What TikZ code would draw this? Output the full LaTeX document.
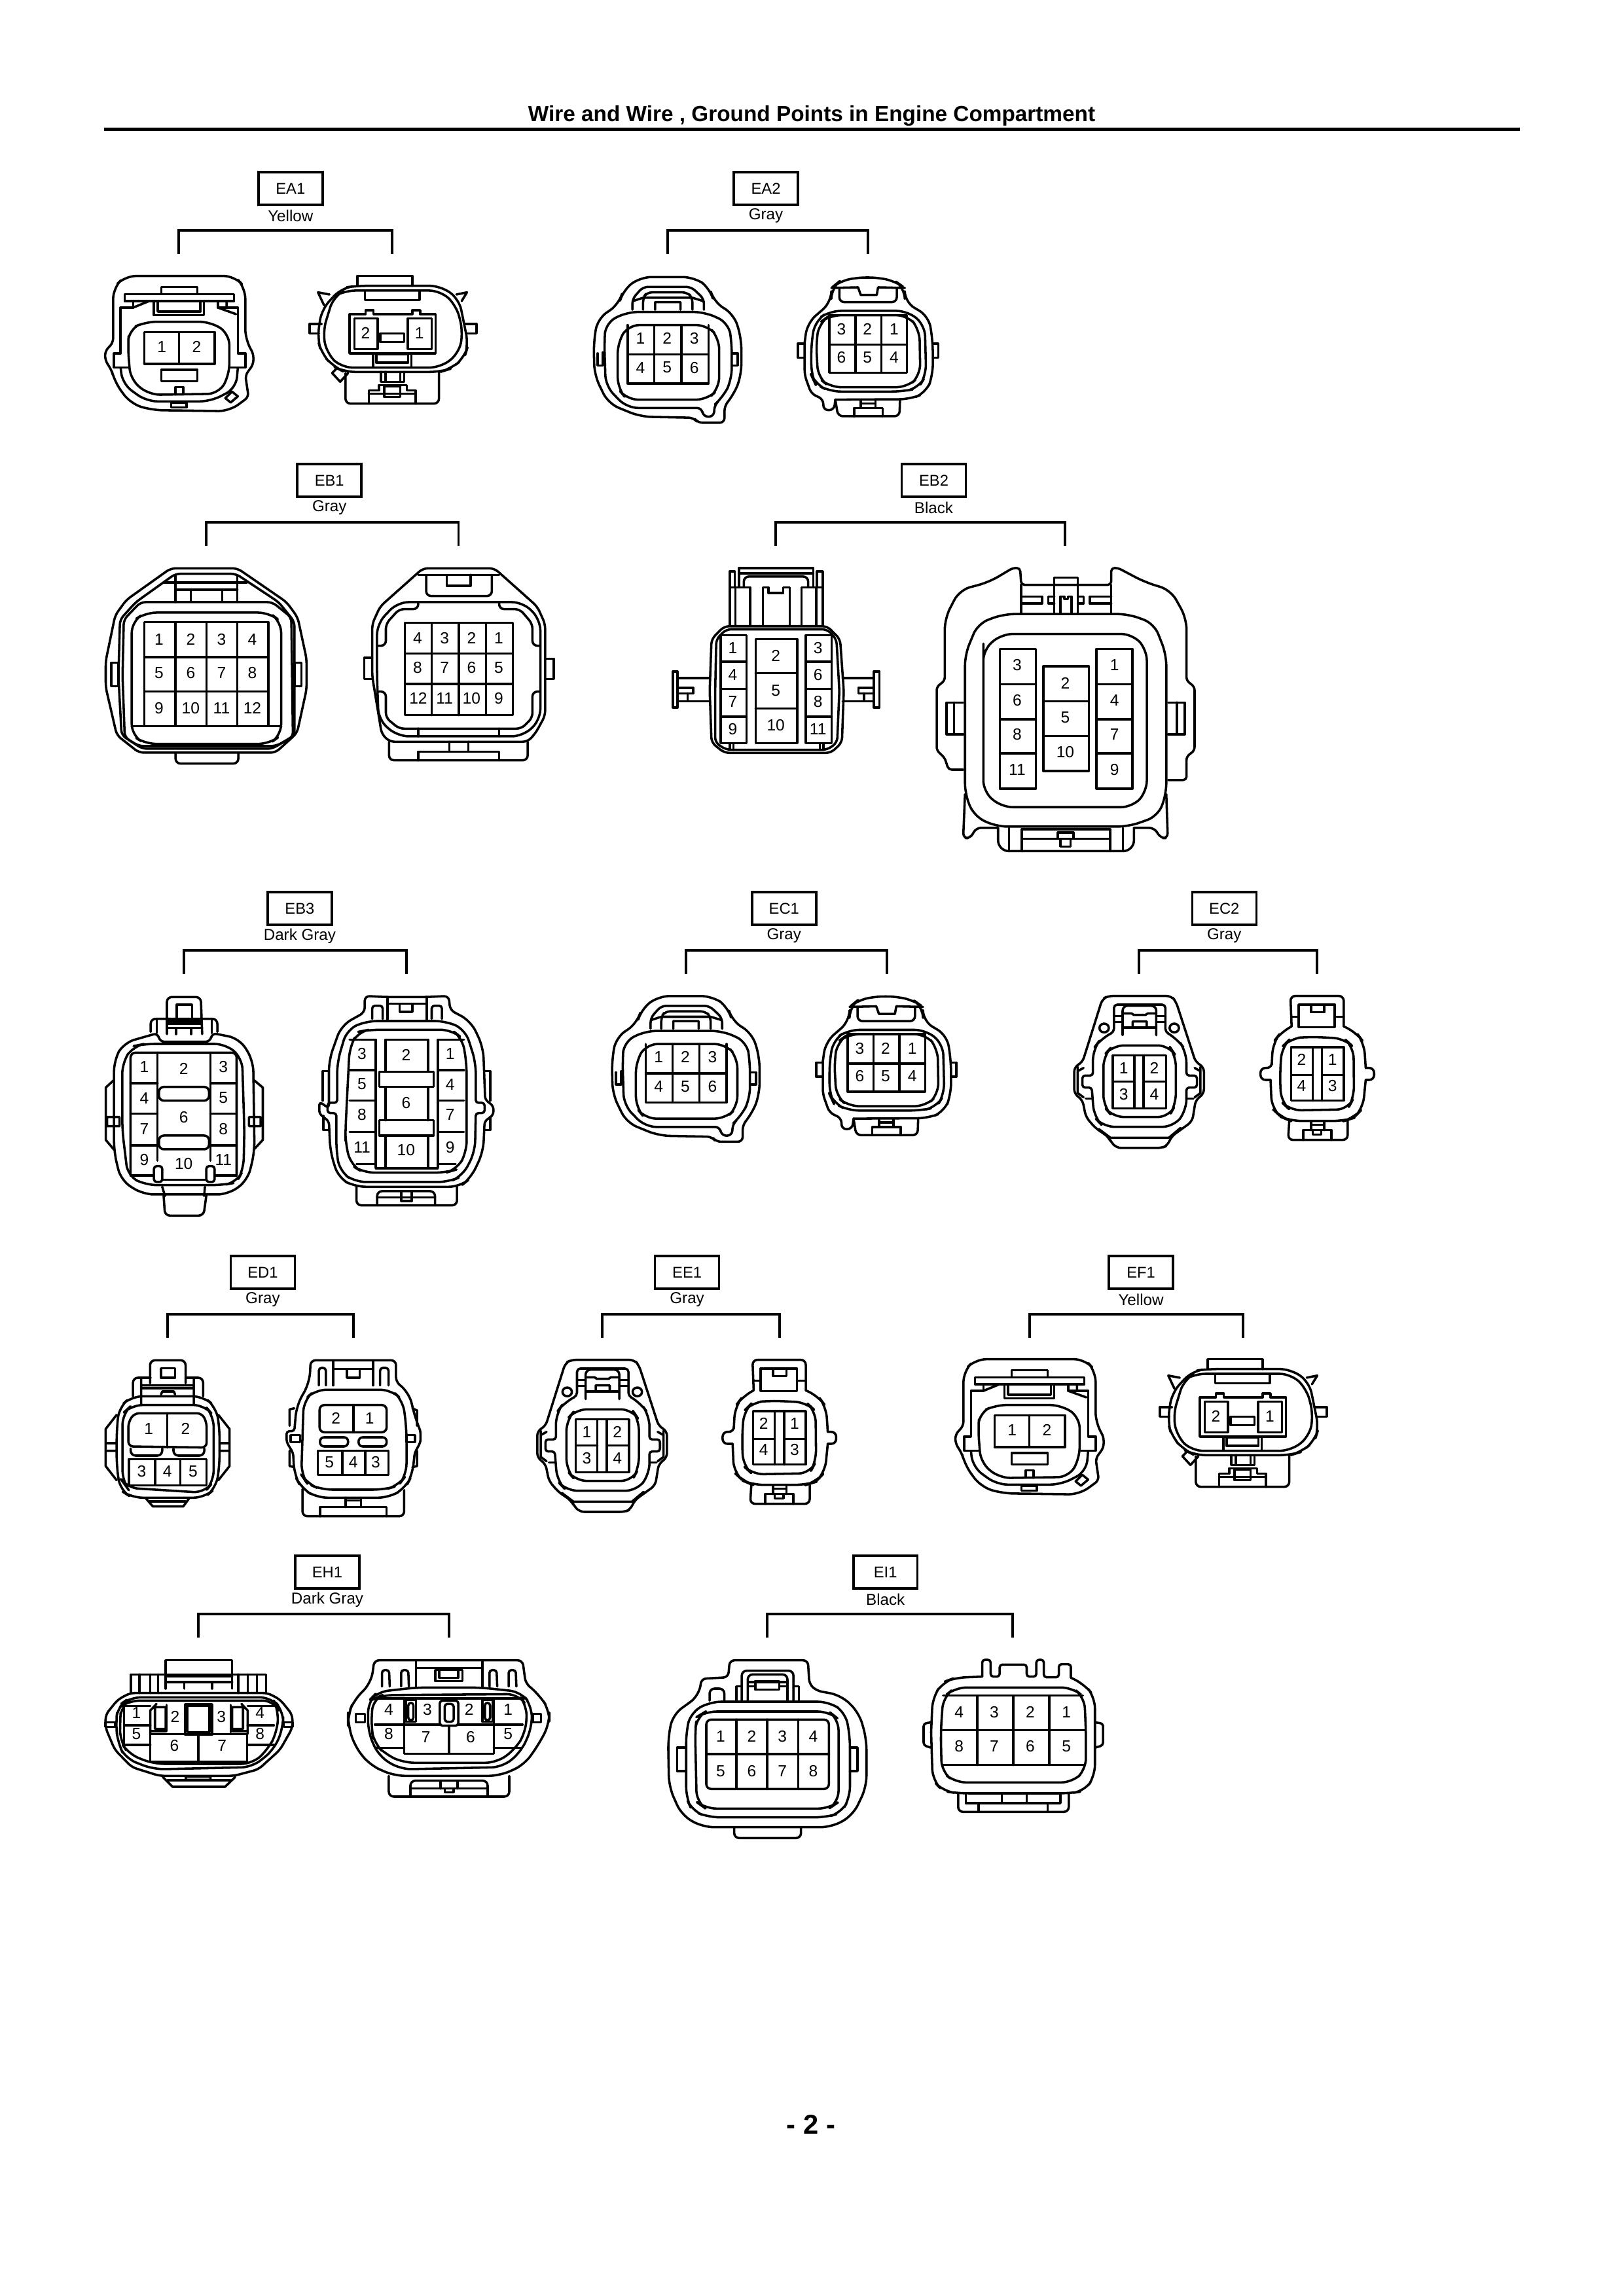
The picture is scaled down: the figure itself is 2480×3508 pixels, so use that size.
\documentclass[tikz,border=0pt]{standalone}
\usepackage{fontspec}
\setmainfont{Liberation Sans}
\usepackage{tikz}

\tikzset{
  con/.style={line width=0.85pt,line join=round,line cap=round},
  outl/.style={con,rounded corners=4pt},
  outs/.style={con,rounded corners=1.8pt},
  bracket/.style={line width=0.95pt,line join=miter},
  tagbox/.style={draw,line width=0.85pt,minimum width=23.5pt,minimum height=12pt,inner sep=0pt,font=\fontsize{5.7}{6}\selectfont},
  colourtxt/.style={inner sep=0pt,font=\fontsize{5.8}{6}\selectfont},
  pinno/.style={inner sep=0pt,font=\fontsize{5.9}{6}\selectfont},
}

% Numeros de pin: lado / lista n/x/y
\newcommand{\pins}[2]{\foreach \n/\x/\y in {#2} \node[pinno] (#1\n) at (\x,\y) {\n};}

% Etiqueta, color y corchete de cada grupo
\newcommand{\conngroup}[6]{
  \node[tagbox] (#1) at (#3,#4) {#1};
  \node[colourtxt] (#1c) at (#3,#4+42) {#2};
  \coordinate (#1t) at (#3,#4+64);
  \coordinate (#1l) at (#5,#4+100);
  \coordinate (#1r) at (#6,#4+100);
  \draw[bracket] (#1l) |- (#1t) -| (#1r);
}

% EA1 / EF1
\newcommand{\eaoneL}{
  \draw[outl] (105,850) -- (105,600) -- (150,545) -- (560,545) -- (600,600) -- (600,840) [rounded corners=1.5pt] -- (630,900) -- (630,950) -- (600,1000) -- (612,1100) [rounded corners=4pt] -- (540,1165) -- (250,1160) -- (170,1130) -- (110,1030) [rounded corners=1.5pt] -- (100,980) -- (75,930) -- (75,890) -- cycle;
  \draw[con] (148,628) rectangle (558,660) (285,628) -- (285,595) -- (420,595) -- (420,628);
  \draw[con] (258,660) -- (258,725) -- (445,725) -- (445,660) (272,665) -- (272,708) -- (432,708) -- (432,665);
  \draw[con] (180,665) -- (180,690) -- (133,690) -- (133,900) -- (108,900) -- (108,965) -- (160,965);
  \draw[con] (497,665) -- (497,690) -- (572,690) -- (572,900) -- (600,900) -- (600,965) -- (545,965);
  \draw[con] (180,690) -- (240,660) (497,690) -- (565,720) (530,665) -- (530,690);
  \draw[outl] (160,870) -- (165,790) -- (225,755) -- (470,755) -- (540,810) -- (540,1000) -- (500,1085) -- (240,1090) -- (170,1020) -- cycle;
  \draw[outl] (133,965) -- (140,1040) -- (230,1120) -- (470,1120) -- (565,1060) -- (572,965);
  \draw[con] (222,802) rectangle (485,948) (352,802) -- (352,948);
  \pins{a}{1/287/870,2/418/870}
  \draw[con] (285,975) rectangle (420,1028);
  \draw[con] (338,1088) -- (338,1055) -- (368,1055) -- (368,1088) (322,1125) rectangle (380,1148);
  \draw[con] (525,1105) -- (550,1075) -- (572,1097) -- (545,1125) -- cycle;
}
\newcommand{\eaoneR}{
  \draw[con] (1020,590) -- (1020,545) -- (1225,545) -- (1225,590);
  \draw[outl] (870,830) -- (885,700) -- (960,600) -- (1020,590) -- (1330,590) -- (1400,650) -- (1435,860) -- (1420,920) -- (1370,970) -- (1330,985) -- (970,985) -- (930,960) -- (885,900) -- cycle;
  \draw[outl] (890,800) -- (930,640) -- (970,612) -- (1330,612) -- (1390,680) -- (1415,800) -- (1400,900) -- (1330,965) -- (960,965) -- (905,900) -- cycle;
  \draw[con] (895,680) -- (872,620) -- (915,630) (1410,660) -- (1430,620) -- (1390,630);
  \draw[con] (885,765) -- (840,765) -- (840,808) -- (875,808) (1420,765) -- (1465,765) -- (1465,808) -- (1428,808);
  \draw[con] (1048,615) -- (1048,655) -- (1252,655) -- (1252,615);
  \draw[con] (990,720) -- (1050,720) -- (1050,702) -- (1080,702) -- (1080,720) -- (1225,720) -- (1225,702) -- (1255,702) -- (1255,720) -- (1312,720) -- (1312,900) -- (990,900) -- cycle;
  \draw[con] (1008,740) rectangle (1095,880) (1208,740) rectangle (1298,880);
  \pins{b}{2/1050/808,1/1252/808}
  \draw[con] (1105,808) rectangle (1195,848) (1090,905) rectangle (1210,942);
  \draw[con] (1078,900) -- (1078,962) (1222,900) -- (1222,962);
  \draw[outs] (975,990) -- (975,1130) -- (1325,1130) -- (1325,985);
  \draw[con] (925,990) -- (955,1030) -- (985,990) (925,990) -- (945,965);
  \draw[con] (1108,985) -- (1108,1030) -- (1195,1030) -- (1195,985) (1125,985) -- (1125,1030) (1180,985) -- (1180,1030);
  \draw[con] (1062,1130) -- (1062,1070) -- (1100,1070) -- (1100,1045) -- (1205,1045) -- (1205,1070) -- (1238,1070) -- (1238,1130) (1062,1085) -- (1238,1085);
  \draw[con] (1120,1050) rectangle (1180,1100);
}

% EA2 / EC1
\newcommand{\eatwoL}{
  \draw[outl] (115,850) -- (130,740) -- (210,675) -- (225,610) -- (290,550) -- (490,550) -- (550,600) -- (565,665) -- (640,720) -- (668,830) -- (668,1000) -- (640,1090) [rounded corners=1.8pt] -- (605,1140) -- (605,1218) -- (505,1218) -- (490,1195) [rounded corners=4pt] -- (290,1190) -- (170,1130) -- (118,1000) -- cycle;
  \draw[outl] (155,850) -- (160,760) -- (240,710) -- (530,710) -- (620,760) -- (632,850) -- (632,1020) -- (600,1100) [rounded corners=1.8pt] -- (568,1135) -- (565,1190) -- (525,1190) -- (520,1150) [rounded corners=4pt] -- (240,1150) -- (160,1050) -- cycle;
  \draw[outl] (205,850) -- (245,770) -- (540,770) -- (585,830) -- (585,1060) -- (540,1112) -- (240,1112) -- (205,1060) -- cycle;
  \draw[con] (242,770) -- (242,1038) -- (545,1038) -- (545,770) (242,905) -- (545,905);
  \foreach \x in {342,443} \draw[con] (\x,770) -- (\x,1038);
  \pins{a}{1/290/830,2/390/830,3/492/830,4/290/965,5/390/965,6/492/965}
  \draw[outs] (260,700) -- (260,650) -- (300,595) -- (480,595) -- (528,650) -- (528,700);
  \draw[outs] (300,700) -- (300,645) -- (315,620) -- (465,620) -- (485,645) -- (485,700);
  \draw[con] (262,660) -- (300,645) -- (485,645) -- (525,660) (345,700) -- (345,665) -- (440,665) -- (440,700);
  \draw[con] (130,900) -- (130,955) -- (150,955) -- (150,895) (635,900) -- (655,900) -- (655,955) -- (635,955);
}
\newcommand{\eatwoR}{
  \draw[outl] (905,850) -- (915,760) -- (1005,665) -- (1005,600) -- (1040,565) -- (1140,548) -- (1240,565) -- (1280,600) -- (1280,665) -- (1370,730) -- (1385,850) -- (1385,1000) -- (1360,1080) -- (1300,1110) -- (1020,1112);
  \draw[outs] (905,850) -- (905,1000) -- (930,1085) -- (975,1110) -- (975,1160) -- (1015,1160) -- (1020,1112);
  \draw[outl] (930,850) -- (945,750) -- (1000,705) -- (1290,705) -- (1355,770) -- (1360,1000) -- (1330,1060) -- (1270,1075) -- (1000,1075) -- (945,1040) -- (930,1000) -- cycle;
  \draw[outl] (948,850) -- (960,760) -- (1000,725) -- (1290,725) -- (1335,790) -- (1338,1000) -- (1290,1055) -- (1000,1055) -- (955,1010) -- cycle;
  \draw[con] (998,725) rectangle (1288,988) (998,860) -- (1288,860);
  \foreach \x in {1095,1192} \draw[con] (\x,725) -- (\x,988);
  \pins{b}{3/1043/790,2/1140/790,1/1240/790,6/1043/918,5/1140/918,4/1240/918}
  \draw[con] (1005,600) -- (1105,597) -- (1115,632) -- (1175,632) -- (1180,597) -- (1280,600);
  \draw[outs] (1035,600) -- (1035,665) -- (1250,665) -- (1250,600);
  \draw[outs] (1020,1112) -- (1030,1188) -- (1260,1188) -- (1262,1110);
  \draw[con] (1090,1188) -- (1090,1150) -- (1197,1150) -- (1197,1188) (1115,1112) -- (1115,1150) (1170,1112) -- (1170,1150) (1115,1130) -- (1170,1130);
  \draw[con] (905,855) -- (880,855) -- (880,920) -- (905,920) (1385,855) -- (1405,855) -- (1405,920) -- (1385,920);
}

% EB1
\newcommand{\eboneL}{
  \draw[outs] (65,930) -- (95,720) -- (130,650) -- (270,505) -- (480,505) -- (635,660) -- (670,730) -- (698,920) -- (698,1060) -- (668,1260) -- (600,1350) -- (170,1350) -- (100,1270) -- (65,1050) -- cycle;
  \draw[outs] (105,1000) -- (110,740) -- (160,660) -- (285,530) -- (475,530) -- (610,660) -- (660,750) -- (660,1270) -- (590,1332) -- (180,1332) -- (115,1270) -- cycle;
  \draw[outs] (118,1000) -- (122,740) -- (175,660) -- (590,660) -- (650,730) -- (655,1280) -- (600,1320) -- (170,1320) -- (125,1280) -- cycle;
  \draw[outl] (147,1000) -- (147,750) -- (190,708) -- (580,708) -- (618,750) -- (618,1270) -- (580,1310) -- (190,1310) -- (147,1270) -- cycle;
  \draw[con] (187,1228) -- (187,752) -- (578,752) -- (578,1228) (147,1228) -- (618,1228) (187,912) -- (578,912) (187,1070) -- (578,1070);
  \foreach \x in {285,383,480} \draw[con] (\x,752) -- (\x,1228);
  \pins{a}{1/233/830,2/333/830,3/430/830,4/527/830,5/233/985,6/333/985,7/430/985,8/527/985,9/233/1145,10/333/1145,11/430/1145,12/527/1145}
  \draw[con] (285,660) -- (285,540) (480,660) -- (480,540) (250,570) -- (510,570) (285,603) -- (480,603) (333,603) -- (333,655) (432,603) -- (432,655);
  \draw[con] (82,938) rectangle (105,1045) (660,938) rectangle (682,1045);
  \draw[outs] (285,1350) -- (285,1400) -- (483,1400) -- (483,1350);
}
\newcommand{\eboneR}{
  \draw[outs] (905,1000) -- (905,760) -- (930,680) -- (1065,505) -- (1290,505) -- (1425,680) -- (1450,760) -- (1450,1180) -- (1420,1260) -- (1395,1300) -- (960,1300) -- (935,1265) -- cycle;
  \draw[outl] (920,1000) -- (920,760) -- (985,660) -- (1380,660) -- (1435,740) -- (1435,1200) -- (1380,1275) -- (985,1275) -- (925,1200) -- cycle;
  \draw[outs] (925,860) -- (948,860) -- (948,760) -- (990,692) -- (1050,692) -- (1050,660);
  \draw[outs] (1305,660) -- (1305,692) -- (1370,692) -- (1410,760) -- (1410,860) -- (1432,860);
  \draw[outs] (925,1070) -- (948,1070) -- (948,1190) -- (990,1240) -- (1375,1240) -- (1410,1190) -- (1410,1070) -- (1432,1070);
  \draw[con] (1050,1240) -- (1050,1275) (1305,1240) -- (1305,1275);
  \draw[con] (1008,755) rectangle (1348,1178) (1008,895) -- (1348,895) (1008,1035) -- (1348,1035);
  \foreach \x in {1092,1178,1264} \draw[con] (\x,755) -- (\x,1178);
  \pins{b}{4/1048/825,3/1133/825,2/1218/825,1/1304/825,8/1048/960,7/1133/960,6/1218/960,5/1304/960,12/1050/1100,11/1133/1100,10/1218/1100,9/1304/1100}
  \draw[con] (1050,535) -- (1305,535) (1140,535) -- (1140,585) -- (1215,585) -- (1215,535);
  \draw[outs] (1075,535) -- (1075,632) -- (1282,632) -- (1282,535);
  \draw[con] (905,915) -- (880,915) -- (880,1012) -- (905,1012) (1452,920) -- (1477,920) -- (1477,1012) -- (1452,1012);
  \draw[outs] (958,1300) -- (958,1385) -- (1395,1385) -- (1395,1300);
  \draw[con] (1050,1385) -- (1050,1345) -- (1305,1345) -- (1305,1385) (1148,1300) -- (1148,1345) (1208,1300) -- (1208,1345);
}

% EB2
\newcommand{\ebtwoL}{
  \draw[outs] (150,900) -- (155,700) -- (190,650) -- (470,650) -- (505,700) -- (515,900) -- (510,1100) -- (480,1140) -- (190,1140) -- (155,1100) -- cycle;
  \draw[outs] (165,900) -- (168,700) -- (195,662) -- (470,662) -- (495,700) -- (503,900) -- (497,1100) -- (470,1128) -- (195,1128) -- (165,1100) -- cycle;
  \foreach \x in {180,412} {
    \draw[con] (\x,685) rectangle (\x+70,1102);
    \foreach \y in {788,892,1000} \draw[con] (\x,\y) -- (\x+70,\y);
  }
  \draw[con] (275,700) rectangle (388,1102) (275,832) -- (388,832) (275,968) -- (388,968);
  \pins{a}{1/213/735,4/213/838,7/213/942,9/213/1047,2/330/765,5/330/898,10/330/1032,3/445/735,6/445/838,8/445/942,11/445/1047}
  \draw[con] (205,1105) -- (205,1128) (215,1105) -- (215,1128) (450,1105) -- (450,1128) (460,1105) -- (460,1128);
  \draw[con] (205,438) rectangle (218,500) (442,438) rectangle (458,500) (230,500) -- (230,425) -- (432,425) -- (432,500) (230,445) -- (432,445);
  \draw[outs] (243,500) -- (243,458) -- (418,458) -- (418,500);
  \draw[con] (205,645) -- (205,500) -- (260,500) -- (260,645) (220,500) -- (220,645) (400,645) -- (400,500) -- (458,500) -- (458,645) (440,500) -- (440,645);
  \draw[con] (295,645) -- (295,500) -- (310,500) -- (310,522) -- (350,522) -- (350,500) -- (368,500) -- (368,645);
  \draw[con] (50,825) rectangle (62,965) (62,850) -- (150,850) (62,940) -- (150,940) (62,888) -- (105,888) -- (105,910) -- (62,910) (90,910) -- (90,940);
  \draw[con] (597,825) rectangle (612,965) (512,850) -- (597,850) (512,940) -- (597,940) (597,888) -- (555,888) -- (555,910) -- (597,910) (570,910) -- (570,940);
}
\newcommand{\ebtwoR}{
  \draw[con,rounded corners=1.2pt] (840,1205) -- (800,1205) -- (790,1160) -- (768,1130) -- (768,885) -- (790,860) [rounded corners=4pt] -- (790,620) -- (830,510) -- (910,480) [rounded corners=1.2pt] -- (975,425) -- (995,425) -- (998,490) -- (1243,490) -- (1243,425) -- (1262,425) [rounded corners=4pt] -- (1335,480) -- (1405,510) -- (1448,620) [rounded corners=1.2pt] -- (1448,860) -- (1470,885) -- (1470,1130) -- (1448,1155) -- (1448,1245) -- (1398,1245);
  \draw[outl] (845,760) -- (880,640) -- (950,603) -- (1290,603) -- (1360,640) -- (1393,760) -- (1393,1300) -- (1370,1385) -- (1290,1425) -- (930,1425) -- (870,1385) -- (845,1300) -- cycle;
  \draw[outl] (895,760) -- (895,740) -- (945,680) -- (1300,680) -- (1340,740) -- (1340,1290) -- (1300,1350) -- (945,1350) -- (895,1290) -- cycle;
  \foreach \x in {940,1203} {
    \draw[con] (\x,738) rectangle (\x+98,1278);
    \foreach \y in {875,1010,1142} \draw[con] (\x,\y) -- (\x+98,\y);
  }
  \draw[con] (1058,805) rectangle (1182,1210) (1058,940) -- (1182,940) (1058,1075) -- (1182,1075);
  \pins{b}{3/987/800,6/987/937,8/987/1068,11/987/1205,2/1118/870,5/1118/1003,10/1118/1137,1/1252/800,4/1252/937,7/1252/1068,9/1252/1205}
  \draw[con] (998,490) -- (998,598) (1243,490) -- (1243,598);
  \draw[con] (1000,535) -- (1055,535) -- (1055,562) -- (1000,562) (1243,535) -- (1185,535) -- (1185,562) -- (1243,562);
  \draw[con] (1088,598) -- (1088,462) -- (1152,462) -- (1152,598) (1088,535) -- (1072,535) -- (1072,562) -- (1088,562) (1152,535) -- (1168,535) -- (1168,562) -- (1152,562);
  \draw[con] (1105,598) -- (1105,535) -- (1115,535) -- (1115,545) -- (1125,545) -- (1125,535) -- (1135,535) -- (1135,598);
  \draw[con] (840,945) -- (795,945) -- (795,1068) -- (840,1068) (815,945) -- (815,1068) (1398,945) -- (1443,945) -- (1443,1068) -- (1398,1068) (1422,945) -- (1422,1068);
  \draw[outs] (845,1300) -- (840,1470) -- (860,1470) -- (875,1430) -- (935,1430);
  \draw[outs] (1393,1300) -- (1397,1470) -- (1378,1470) -- (1360,1430) -- (1305,1430);
  \draw[outl] (935,1430) -- (935,1520) -- (1305,1520) -- (1305,1430);
  \draw[con] (965,1430) -- (965,1520) (1275,1430) -- (1275,1520) (1000,1520) -- (1000,1435) -- (1240,1435) -- (1240,1520) (1000,1472) -- (1240,1472);
  \draw[con] (1098,1448) rectangle (1140,1472) (1105,1472) rectangle (1132,1502);
}

% EB3
\newcommand{\ebthrL}{
  \draw[outl] (105,1000) -- (105,780) -- (140,700) [rounded corners=1.8pt] -- (265,655) -- (270,695) -- (455,695) -- (460,655) [rounded corners=4pt] -- (560,680) -- (610,780) -- (615,1200) -- (590,1330) -- (520,1395) -- (210,1395) -- (130,1330) -- (105,1200) -- cycle;
  \draw[outl] (135,1100) -- (135,790) -- (175,715) -- (215,705) -- (510,705) -- (570,770) -- (578,1100) -- (575,1280) -- (550,1340) -- (500,1352) -- (220,1352) -- (155,1310) -- cycle;
  \draw[outs] (165,1305) -- (165,745) -- (550,745) -- (550,1305);
  \draw[con] (263,745) -- (263,1240) (455,745) -- (455,1240);
  \foreach \y in {885,1025,1170} \draw[con] (165,\y) -- (263,\y) (455,\y) -- (550,\y);
  \draw[con] (165,1308) -- (250,1308) (280,1328) -- (440,1328) (470,1308) -- (550,1308);
  \pins{a}{1/215/810,4/215/953,7/215/1095,9/215/1235,3/502/810,5/502/953,8/502/1095,11/502/1235,2/358/820,6/358/1040,10/358/1253}
  \draw[outs] (268,902) rectangle (450,965) (268,1125) rectangle (450,1188);
  \draw[con,rounded corners=1pt] (250,1265) rectangle (280,1338) (440,1265) rectangle (470,1338);
  \draw[outs] (238,650) -- (238,590) -- (480,590) -- (480,650);
  \draw[con] (260,590) -- (260,655) (460,590) -- (460,655);
  \draw[outs] (297,660) -- (297,490) -- (420,490) -- (425,660);
  \draw[con] (333,590) -- (333,525) -- (388,525) -- (388,590) (300,600) -- (420,600) (300,612) -- (420,612) (300,632) -- (420,632) (330,632) -- (330,660) (385,632) -- (385,660);
  \draw[con] (105,870) -- (75,905) -- (75,1145) -- (105,1190) (80,1040) rectangle (125,1082);
  \draw[con] (612,870) -- (645,905) -- (645,1145) -- (612,1190) (595,1040) rectangle (637,1082);
  \draw[outs] (285,1400) -- (290,1492) -- (430,1492) -- (440,1400);
  \draw[con] (280,1360) -- (290,1402) (435,1360) -- (432,1402);
}
\newcommand{\ebthrR}{
  \draw[outl] (885,1000) -- (885,780) -- (930,620) [rounded corners=1.8pt] -- (1015,560) -- (1015,485) -- (1090,490) -- (1240,490) -- (1320,485) -- (1325,550) [rounded corners=4pt] -- (1400,600) -- (1445,720) [rounded corners=1.2pt] -- (1452,960) -- (1482,990) -- (1482,1030) -- (1450,1060) [rounded corners=4pt] -- (1445,1200) -- (1400,1320) -- (1360,1360) -- (980,1360) -- (920,1320) -- (890,1200) [rounded corners=1.2pt] -- (885,1060) -- (850,1025) -- (850,970) -- cycle;
  \draw[outl] (915,975) -- (915,790) -- (950,640) -- (1020,600) -- (1310,600) -- (1380,640) -- (1418,790) [rounded corners=1pt] -- (1418,975) -- (1450,975) -- (1450,1022) -- (1418,1022) [rounded corners=4pt] -- (1415,1200) -- (1370,1310) -- (1320,1338) -- (980,1338) -- (925,1290) -- (912,1200) [rounded corners=1pt] -- (912,1022) -- (880,1022) -- (880,975) -- cycle;
  \draw[outl] (945,1100) -- (960,720) -- (990,650) -- (1030,640) -- (1330,640) -- (1370,680) -- (1385,800) -- (1385,1200) -- (1350,1280) -- (1310,1295) -- (1010,1295) -- (965,1260) -- (945,1160) -- cycle;
  \draw[con] (960,685) -- (1055,685) -- (1055,1270) (1280,1270) -- (1280,685) -- (1375,685);
  \foreach \y in {825,965,1108} \draw[con] (960,\y) -- (1055,\y) (1280,\y) -- (1375,\y);
  \draw[con] (1090,830) -- (1090,685) -- (1245,685) -- (1245,830);
  \draw[con] (1090,905) -- (1090,1055) (1245,905) -- (1245,1055) (1090,1128) -- (1090,1275) (1245,1128) -- (1245,1275);
  \draw[con] (1068,833) rectangle (1265,902) (1068,1055) rectangle (1265,1125) (1055,1275) -- (1280,1275) (985,1255) -- (1055,1255) (1280,1255) -- (1345,1255);
  \pins{b}{3/1005/750,5/1005/890,8/1005/1030,11/1005/1178,1/1325/750,4/1325/890,7/1325/1030,9/1325/1178,2/1165/755,6/1165/975,10/1165/1192}
  \draw[con,rounded corners=1pt] (1042,590) -- (1042,530) -- (1080,530) -- (1080,590) (1258,590) -- (1258,530) -- (1295,530) -- (1295,590);
  \draw[con] (1098,490) -- (1098,598) (1240,490) -- (1240,598) (1098,520) -- (1240,520) (1142,520) rectangle (1188,558);
  \draw[con] (885,830) -- (862,830) -- (862,965) (865,1035) -- (865,1100) -- (885,1100) (1450,830) -- (1470,830) -- (1470,965) (1470,1040) -- (1470,1100) -- (1450,1100);
  \draw[outs] (985,1360) -- (985,1445) -- (1350,1445) -- (1350,1360);
  \draw[outs] (1060,1445) -- (1060,1380) -- (1270,1380) -- (1270,1445);
  \draw[con] (1060,1408) -- (1270,1408) (1148,1380) -- (1148,1425) -- (1185,1425) -- (1185,1380);
}

% EC2 / EE1
\newcommand{\ectwoL}{
  \draw[outs] (150,790) -- (235,500) -- (260,485) -- (530,485) -- (550,510) -- (635,790) -- (670,810) -- (670,935) -- (635,960) -- (620,1060) -- (530,1130) -- (515,1170) -- (490,1182) -- (295,1182) -- (270,1150) -- (260,1130) -- (205,1090) -- (165,1040) -- (150,960) -- (115,935) -- (115,810) -- cycle;
  \draw[outl] (195,850) -- (195,730) -- (230,680) [rounded corners=1.2pt] -- (285,650) -- (285,525) -- (505,525) -- (505,650) [rounded corners=4pt] -- (555,680) -- (595,740) [rounded corners=1pt] -- (595,850) -- (640,850) -- (640,905) -- (595,905) [rounded corners=4pt] -- (595,1010) -- (540,1085) -- (240,1085) -- (200,1040) [rounded corners=1pt] -- (190,905) -- (150,905) -- (150,850) -- cycle;
  \draw[outl] (240,850) -- (240,760) -- (280,712) -- (520,712) -- (550,760) -- (550,980) -- (520,1040) -- (280,1040) -- (240,990) -- cycle;
  \draw[con] (280,758) rectangle (508,1000) (372,758) -- (372,1000) (412,758) -- (412,1000) (280,878) -- (372,878) (412,878) -- (508,878);
  \pins{a}{1/327/815,2/458/815,3/327/935,4/458/935}
  \foreach \x in {243,543} \draw[con] (\x,632) ellipse [x radius=20,y radius=20];
  \draw[outs] (322,665) -- (322,530) -- (466,530) -- (466,665);
  \draw[con] (322,565) -- (360,565) -- (370,572) -- (420,572) -- (430,565) -- (466,565) (322,630) -- (466,630) (365,630) -- (365,602) -- (425,602) -- (425,630);
  \draw[con] (285,578) -- (322,578) (285,605) -- (322,605) (466,578) -- (505,578) (466,605) -- (505,605);
  \draw[con] (220,1095) -- (270,1135) -- (520,1135) -- (570,1090);
  \draw[con] (130,810) -- (130,930) (155,815) -- (130,830) (155,950) -- (130,930) (655,810) -- (655,930) (630,815) -- (655,830) (630,950) -- (655,930);
  \draw[con] (165,955) -- (190,955) (600,955) -- (625,955);
}
\newcommand{\ectwoR}{
  \draw[outl] (960,800) -- (965,700) -- (1000,650) -- (1045,625);
  \draw[outs] (1045,625) -- (1040,485) -- (1268,485) -- (1268,625);
  \draw[outl] (1268,625) -- (1320,650) -- (1355,700) -- (1362,815);
  \draw[outs] (1362,815) -- (1398,815) -- (1398,870) -- (1362,870);
  \draw[outl] (1362,870) -- (1350,1000) -- (1310,1045) -- (1270,1058) -- (1040,1058) -- (1000,1040) -- (960,1000) -- (955,870);
  \draw[outs] (955,870) -- (912,870) -- (912,815) -- (960,815) -- (960,800);
  \draw[outl] (995,850) -- (1003,720) -- (1040,680) -- (1120,672) -- (1270,680) -- (1310,720) -- (1312,950) -- (1285,1005) -- (1040,1010) -- (1000,970) -- cycle;
  \draw[con] (1043,720) rectangle (1268,965) (1135,720) -- (1135,965) (1175,720) -- (1175,965) (1043,848) -- (1135,848) (1175,848) -- (1268,848);
  \pins{b}{2/1088/778,1/1220/778,4/1088/898,3/1220/898}
  \draw[con] (1075,628) -- (1075,525) -- (1230,525) -- (1230,628) -- cycle (1045,580) -- (1075,580) (1230,580) -- (1268,580) (1128,525) -- (1128,560) -- (1185,560) -- (1185,525);
  \draw[outs] (1035,1058) -- (1030,1145) -- (1285,1145) -- (1285,1058);
  \draw[con] (1095,1145) -- (1095,1100) -- (1215,1100) -- (1215,1145) (1128,1060) -- (1128,1100) (1185,1060) -- (1185,1100) (1128,1075) -- (1185,1075) (1135,1100) -- (1135,1120) -- (1172,1120) -- (1172,1100);
}

% ED1
\newcommand{\edoneL}{
  \draw[outl] (135,800) -- (145,690) -- (200,640) -- (505,640) -- (560,690) -- (575,780) -- (575,960) -- (560,1060) -- (510,1105) -- (200,1105) -- (150,1070) -- (135,960) -- cycle;
  \draw[outl] (160,860) -- (160,720) -- (200,680) -- (510,680) -- (550,730) -- (550,1030) -- (510,1082) -- (180,1060) -- (160,1030) -- cycle;
  \draw[outs] (185,870) -- (185,760) -- (210,718) -- (500,718) -- (520,760) -- (520,875) -- cycle;
  \draw[con] (352,718) -- (352,875);
  \pins{a}{1/272/790,2/430/790}
  \draw[outs] (195,880) -- (195,912) -- (330,912) -- (330,880) (378,880) -- (378,912) -- (510,912) -- (510,880);
  \draw[con] (187,928) rectangle (520,1048) (300,928) -- (300,1048) (408,928) -- (408,1048);
  \pins{c}{3/242/985,4/352/985,5/462/985}
  \draw[outs] (278,580) -- (278,475) -- (430,475) -- (430,580);
  \draw[con] (325,512) rectangle (385,555);
  \draw[outs] (205,640) -- (205,555) -- (280,555) (430,555) -- (505,555) -- (505,640);
  \draw[con] (240,560) -- (240,675) (465,560) -- (465,675) (240,590) -- (465,590) (240,603) -- (465,603) (325,632) -- (330,618) -- (380,618) -- (385,632);
  \draw[con] (135,725) -- (88,790) -- (88,960) -- (135,1025) (95,855) -- (135,855) (95,890) -- (135,890);
  \draw[con] (570,725) -- (618,790) -- (618,960) -- (570,1025) (575,855) -- (615,855) (575,890) -- (615,890);
  \draw[con] (260,1108) -- (290,1145) -- (420,1145) -- (445,1108) (275,1122) -- (430,1122);
}
\newcommand{\edoneR}{
  \draw[outl] (895,800) -- (905,680) -- (960,580) [rounded corners=1.8pt] -- (965,475) -- (1330,475) -- (1330,575) [rounded corners=4pt] -- (1385,620) -- (1415,750) [rounded corners=1pt] -- (1435,800) -- (1435,850) -- (1410,900) [rounded corners=4pt] -- (1400,1000) -- (1370,1060) -- (1300,1105) -- (990,1105) -- (925,1060) -- (895,1000) [rounded corners=1pt] -- (890,900) -- (862,850) -- (862,800) -- cycle;
  \draw[outl] (925,1000) -- (935,660) -- (985,610) -- (1310,610) -- (1360,660) -- (1375,790) -- (1375,1000) -- (1340,1050) -- (1280,1068) -- (1010,1068) -- (950,1040) -- cycle;
  \draw[con,rounded corners=1pt] (1000,590) -- (1000,510) -- (1030,510) -- (1030,590) (1262,590) -- (1262,510) -- (1298,510) -- (1298,590);
  \draw[con] (1062,480) -- (1062,590) (1232,480) -- (1232,590) (1062,515) -- (1232,515) (1120,515) rectangle (1175,555);
  \draw[outs] (1003,805) -- (1003,680) -- (1290,680) -- (1290,805) -- cycle;
  \draw[con] (1148,680) -- (1148,805);
  \pins{b}{2/1073/740,1/1217/740}
  \draw[con,rounded corners=1.5pt] (1005,828) rectangle (1125,870) (1170,828) rectangle (1290,870);
  \draw[con] (995,890) rectangle (1298,1000) (1100,890) -- (1100,1000) (1198,890) -- (1198,1000);
  \pins{d}{5/1045/942,4/1147/942,3/1243/942}
  \draw[con] (880,818) rectangle (920,850) (1375,818) rectangle (1412,850);
  \draw[con] (895,695) -- (875,700) -- (875,775) (875,890) -- (875,960) -- (895,965) (1400,695) -- (1420,705) -- (1420,775) (1420,890) -- (1420,960) -- (1400,965);
  \draw[outs] (930,1065) -- (930,1190) -- (1365,1190) -- (1365,1070);
  \draw[con] (1005,1190) -- (1005,1148) -- (1290,1148) -- (1290,1190) (1115,1105) -- (1115,1148) (1180,1105) -- (1180,1148) (1115,1118) -- (1180,1118);
}

% EH1
\newcommand{\ehoneL}{
  \draw[outs] (45,720) -- (85,650) -- (125,620) -- (570,620) -- (610,650) -- (650,720) -- (650,780) -- (610,880) -- (540,970) -- (460,1000) -- (220,1000) -- (130,960) -- (75,880) -- (45,780) -- cycle;
  \draw[outl] (78,760) -- (85,680) -- (125,640) -- (580,640) -- (620,700) -- (620,780) -- (590,880) -- (520,960) -- (200,970) -- (110,920) -- (85,850) -- cycle;
  \draw[outl] (92,760) -- (95,680) -- (120,655) -- (590,655) -- (605,700) -- (600,800) -- (570,880) -- (520,945) -- (200,945) -- (120,900) -- (92,840) -- cycle;
  \draw[con] (190,680) -- (105,680) -- (105,858) -- (190,858) (105,768) -- (190,768) (505,680) -- (590,680) (505,768) -- (590,768) (505,858) -- (590,858);
  \draw[con] (190,808) rectangle (503,935) (345,808) -- (345,935);
  \draw[con] (243,675) -- (243,795) (303,672) -- (303,812) -- (390,812) -- (390,672) -- cycle (310,680) rectangle (382,800) (450,675) -- (450,800);
  \draw[con] (190,808) -- (190,700) -- (210,670) (205,685) rectangle (240,785) (455,685) rectangle (490,785) (505,808) -- (505,700) -- (485,670) (190,795) -- (240,795) (455,795) -- (505,795);
  \pins{a}{1/145/712,5/145/808,2/270/730,3/420/730,4/545/712,8/545/808,6/268/860,7/422/860}
  \draw[con] (127,620) -- (127,535) -- (565,535) -- (565,620);
  \foreach \x in {155,190,215,475,505,535} \draw[con] (\x,535) -- (\x,620);
  \draw[con] (240,600) -- (240,470) -- (455,470) -- (455,600) (240,545) -- (455,545) (240,570) -- (455,570) (300,570) -- (300,600) (390,570) -- (390,600);
  \draw[con] (45,755) rectangle (75,775) (622,755) rectangle (650,775);
  \draw[con] (230,1005) -- (262,1050) -- (432,1050) -- (465,1005) (245,1020) -- (450,1020) (305,1003) rectangle (385,1018);
}
\newcommand{\ehoneR}{
  \draw[outl] (830,720) -- (850,650) -- (905,575) [rounded corners=1.8pt] -- (915,470) -- (1395,470) -- (1405,575) [rounded corners=4pt] -- (1450,630) -- (1482,700) -- (1482,760) -- (1450,850) -- (1400,950) -- (1320,1000) -- (980,1000) -- (900,950) -- (850,860) -- (830,760) -- cycle;
  \draw[outl] (895,800) -- (895,660) -- (925,615) -- (1050,595) -- (1260,595) -- (1390,615) -- (1425,680) -- (1425,780) -- (1390,890) -- (1330,960) -- (1000,970) -- (930,910) -- cycle;
  \draw[outl] (905,780) -- (910,650) -- (940,630) -- (1380,625) -- (1410,680) -- (1405,800) -- (1370,880) -- (1310,940) -- (1010,940) -- (950,900) -- (915,850) -- cycle;
  \draw[con] (915,645) -- (1400,645) (917,765) -- (1130,765) (1185,765) -- (1395,765) (917,872) -- (1012,872) (1302,872) -- (1390,872);
  \draw[con] (1012,650) -- (1012,898) -- (1302,898) -- (1302,650) (1157,770) -- (1157,898);
  \draw[con] (1017,652) rectangle (1050,752) (1265,652) rectangle (1298,752);
  \draw[con,rounded corners=1pt] (1025,665) rectangle (1042,745) (1273,665) rectangle (1290,745) (1127,655) rectangle (1187,770) (1143,670) rectangle (1172,752);
  \pins{b}{4/962/695,3/1087/695,2/1222/695,1/1348/695,8/962/808,7/1082/822,6/1227/822,5/1348/808}
  \draw[con] (1050,475) -- (1050,590) (1265,475) -- (1265,590) (1050,505) -- (1265,505) (1112,515) rectangle (1200,565) (1125,515) -- (1125,550) -- (1187,550) -- (1187,515);
  \foreach \x in {940,1002,1288,1350} \draw[con,rounded corners=1pt] (\x,590) -- (\x,515) -- (\x+23,515) -- (\x+25,590);
  \draw[con] (855,715) rectangle (885,755) (1428,715) rectangle (1455,755);
  \draw[outs] (962,1000) -- (962,1095) -- (1352,1095) -- (1352,1000);
  \draw[outs] (1032,1095) -- (1032,1022) -- (1282,1022) -- (1282,1095);
  \draw[con] (1032,1058) -- (1282,1058) (1130,1022) -- (1130,1058) (1185,1022) -- (1185,1058) (1143,1058) rectangle (1172,1075);
}

% EI1
\newcommand{\eioneL}{
  \draw[outl] (45,830) -- (60,720) -- (150,630) [rounded corners=1.8pt] -- (155,555) -- (245,548) -- (250,470) -- (510,470) -- (515,580) -- (540,610) [rounded corners=4pt] -- (620,630) -- (680,710) -- (705,830) -- (705,1050) -- (660,1180) -- (590,1235) -- (160,1235) -- (90,1180) -- (48,1050) -- cycle;
  \draw[outl] (105,800) -- (120,710) -- (185,660) -- (580,660) -- (635,710) -- (650,820) -- (650,1100) -- (620,1170) -- (570,1190) -- (180,1190) -- (125,1160) -- (105,1100) -- cycle;
  \draw[outl] (135,800) -- (140,730) -- (170,705) -- (580,705) -- (612,740) -- (612,1120) -- (580,1150) -- (170,1150) -- (140,1120) -- cycle;
  \draw[outs] (172,1060) -- (172,742) -- (580,742) -- (580,1060) -- cycle;
  \draw[con] (172,900) -- (580,900);
  \foreach \x in {272,375,478} \draw[con] (\x,742) -- (\x,1060);
  \pins{a}{1/220/820,2/323/820,3/425/820,4/528/820,5/220/978,6/323/978,7/425/978,8/528/978}
  \draw[outs] (290,655) -- (290,518) -- (462,518) -- (462,655);
  \draw[outs] (310,655) -- (310,535) -- (442,535) -- (442,655);
  \draw[con] (312,570) -- (440,570) (335,565) rectangle (415,605) (312,590) -- (335,590) (415,590) -- (440,590);
  \draw[con] (272,655) -- (272,590) -- (288,590) (480,655) -- (480,590) -- (465,590);
  \draw[outs] (183,655) -- (183,600) -- (232,600) -- (232,655);
  \draw[con] (103,870) -- (75,870) -- (75,978) -- (103,978) (650,870) -- (675,870) -- (675,978) -- (650,978);
  \draw[outs] (265,1238) -- (265,1285) -- (487,1285) -- (487,1238);
}
\newcommand{\eioneR}{
  \draw[outl] (920,800) -- (925,640) -- (960,570) -- (1000,550) -- (1090,545);
  \draw[con,rounded corners=1pt] (1090,545) -- (1090,468) -- (1118,468) -- (1118,545) -- (1148,545) -- (1148,490) -- (1238,490) -- (1238,545) -- (1270,545) -- (1270,468) -- (1295,468) -- (1295,548) -- (1345,548) -- (1345,488) -- (1385,488) -- (1385,550);
  \draw[outl] (1385,550) -- (1430,580) -- (1465,640) -- (1465,1000) -- (1430,1070) -- (1380,1080) -- (1010,1080) -- (960,1070) -- (925,1020) -- (920,800);
  \draw[outl] (952,800) -- (960,640) -- (1000,595) -- (1390,595) -- (1430,640) -- (1435,800) -- (1435,970) -- (1390,1030) -- (1000,1030) -- (955,980) -- cycle;
  \draw[con] (960,632) -- (1425,632) (958,790) -- (1430,790) (958,950) -- (1430,950);
  \foreach \x in {1073,1193,1313} \draw[con] (\x,632) -- (\x,950);
  \pins{b}{4/1013/708,3/1130/708,2/1250/708,1/1370/708,8/1013/865,7/1130/865,6/1250/865,5/1370/865}
  \draw[con,rounded corners=1pt] (918,755) -- (895,760) -- (895,860) -- (918,870) (1467,755) -- (1492,760) -- (1492,860) -- (1467,870);
  \draw[outs] (1010,1080) -- (1010,1165) -- (1378,1165) -- (1378,1080);
  \draw[con] (1035,1080) -- (1035,1125) -- (1350,1125) -- (1350,1080) (1155,1085) -- (1155,1120) (1238,1085) -- (1238,1120) (1078,1125) -- (1078,1165) (1308,1125) -- (1308,1165);
}

\begin{document}
\begin{tikzpicture}[x=0.24pt,y=-0.24pt]
  \useasboundingbox (0,0) rectangle (2480,3508);

  % Encabezado y pie
  \node[inner sep=0pt,font=\bfseries\fontsize{8}{9}\selectfont] (title) at (1240,177) {Wire and Wire , Ground Points in Engine Compartment};
  \coordinate (rulel) at (159,198);
  \coordinate (ruler) at (2322,198);
  \draw[line width=1.2pt] (rulel) -- (ruler);
  \node[inner sep=0pt,font=\bfseries\fontsize{10}{12}\selectfont] (page) at (1239,3246) {- 2 -};

  % Etiquetas y corchetes
  \conngroup{EA1}{Yellow}{443.8}{288}{272.8}{599.2}
  \conngroup{EA2}{Gray}{1170}{288}{1020}{1326.3}
  \conngroup{EB1}{Gray}{503.2}{734}{315.2}{700.5}
  \conngroup{EB2}{Black}{1426.5}{734}{1185.2}{1627.4}
  \conngroup{EB3}{Dark Gray}{457.9}{1388}{280.7}{621.2}
  \conngroup{EC1}{Gray}{1197.8}{1388}{1047.7}{1354.9}
  \conngroup{EC2}{Gray}{1870.3}{1388}{1740}{2012.4}
  \conngroup{ED1}{Gray}{401.4}{1944}{256}{539.6}
  \conngroup{EE1}{Gray}{1049.6}{1944}{920.3}{1190.6}
  \conngroup{EF1}{Yellow}{1743}{1944}{1572.8}{1899.2}
  \conngroup{EH1}{Dark Gray}{500}{2402}{303.3}{686}
  \conngroup{EI1}{Black}{1352.7}{2402}{1172.2}{1547.4}

  % Conectores
  \begin{scope}[shift={(130,240)},xscale=.408,yscale=.3333,name prefix=EA1-]
    \eaoneL \eaoneR
  \end{scope}
  \begin{scope}[shift={(860,240)},xscale=.408,yscale=.3333,name prefix=EA2-]
    \eatwoL \eatwoR
  \end{scope}
  \begin{scope}[shift={(130,700)},xscale=.4847,yscale=.3333,name prefix=EB1-]
    \eboneL \eboneR
  \end{scope}
  \begin{scope}[shift={(1000,700)},xscale=.5612,yscale=.395,name prefix=EB2-]
    \ebtwoL \ebtwoR
  \end{scope}
  \begin{scope}[shift={(130,1360)},xscale=.4209,yscale=.3333,name prefix=EB3-]
    \ebthrL \ebthrR
  \end{scope}
  \begin{scope}[shift={(887.8,1338.5)},xscale=.408,yscale=.3333,name prefix=EC1-]
    \eatwoL \eatwoR
  \end{scope}
  \begin{scope}[shift={(1600,1360)},xscale=.3571,yscale=.3333,name prefix=EC2-]
    \ectwoL \ectwoR
  \end{scope}
  \begin{scope}[shift={(130,1920)},xscale=.3571,yscale=.3333,name prefix=ED1-]
    \edoneL \edoneR
  \end{scope}
  \begin{scope}[shift={(779.7,1916)},xscale=.3571,yscale=.3333,name prefix=EE1a-]
    \ectwoL
  \end{scope}
  \begin{scope}[shift={(778.2,1916)},xscale=.3571,yscale=.3333,name prefix=EE1b-]
    \ectwoR
  \end{scope}
  \begin{scope}[shift={(1429,1895)},xscale=.408,yscale=.3333,name prefix=EF1-]
    \eaoneL \eaoneR
  \end{scope}
  \begin{scope}[shift={(140,2380)},xscale=.4719,yscale=.3333,name prefix=EH1-]
    \ehoneL \ehoneR
  \end{scope}
  \begin{scope}[shift={(1000,2380)},xscale=.4592,yscale=.3333,name prefix=EI1-]
    \eioneL \eioneR
  \end{scope}
\end{tikzpicture}
\end{document}
